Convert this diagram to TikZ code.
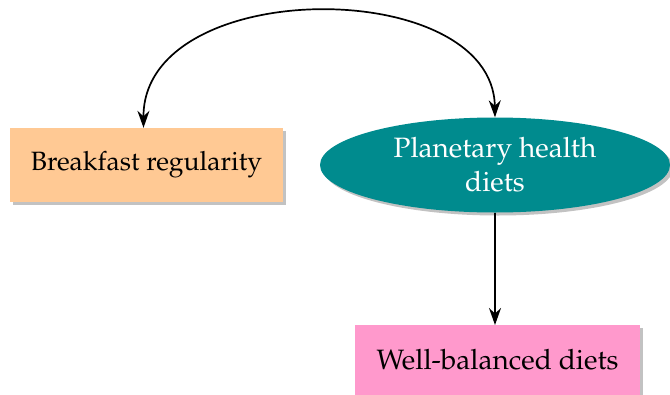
\documentclass[tikz,border=0pt]{standalone}
\usepackage[T1]{fontenc}
\usepackage{mathpazo}
\usetikzlibrary{shapes.geometric,shadows,arrows.meta}
\definecolor{peach}{RGB}{255,201,148}
\definecolor{tealc}{RGB}{0,139,142}
\definecolor{pinkc}{RGB}{255,153,204}
\tikzset{
  shad/.style={drop shadow={shadow xshift=3pt,shadow yshift=-3pt,opacity=0.4,fill=black!60}},
  lbl/.style={font=\fontsize{28}{34}\selectfont, align=center},
  conn/.style={line width=1.7pt,>={Stealth[length=17pt,width=12pt]}}
}
\begin{document}
\begin{tikzpicture}[x=1pt,y=-1pt]
\useasboundingbox (0,0) rectangle (670,394);
\begin{scope}
\clip (0,0) rectangle (670,394);
\node[rectangle,fill=peach,minimum width=273pt,minimum height=74pt,shad,lbl,font=\fontsize{26.5}{34}\selectfont] (bf) at (146.5,165) {Breakfast regularity};
\node[ellipse,fill=tealc,minimum width=350pt,minimum height=95pt,shad,lbl,text=white,inner sep=0pt] (ph) at (495,165) {Planetary health\\diets};
\node[rectangle,fill=pinkc,minimum width=285pt,minimum height=90pt,shad,lbl,anchor=north] (wb) at (497.5,325) {};
\node[lbl] (wbt) at (497.5,360) {Well-balanced diets};
\end{scope}
\draw[conn,<->] (bf.north) ++(-3,0) coordinate (a) (a) .. controls (143,-25) and (493,-25) .. (ph.north);
\draw[conn,->] (ph.south) -- (ph.south |- wb.north);
\end{tikzpicture}
\end{document}
